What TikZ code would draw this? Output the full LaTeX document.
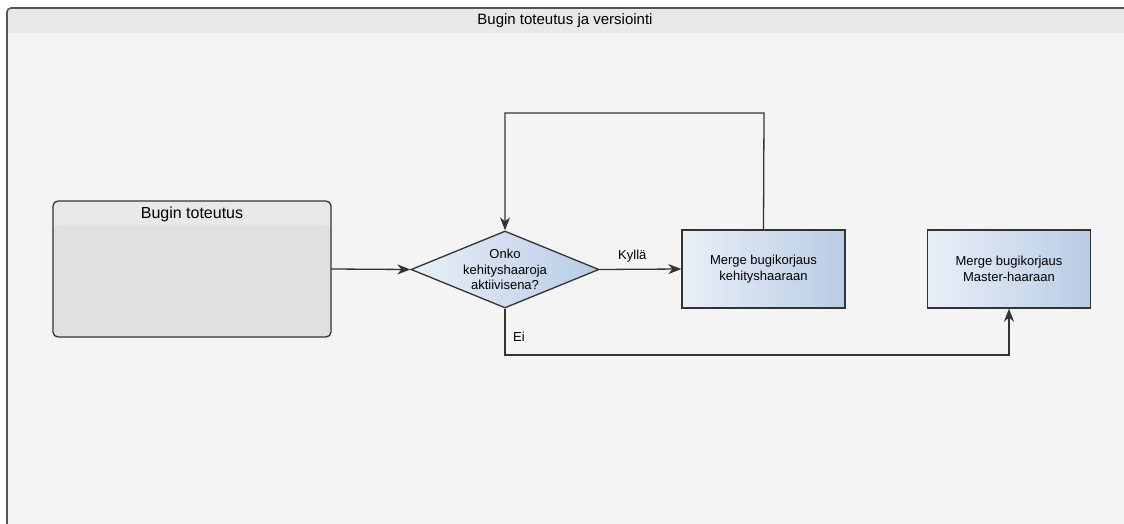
\documentclass[tikz,border=0pt]{standalone}
\usepackage{fontspec}
\setmainfont{Liberation Sans}
\usetikzlibrary{arrows.meta,shapes.geometric}
\definecolor{framebg}{HTML}{F4F4F4}
\definecolor{framehead}{HTML}{E8E8E8}
\definecolor{framestroke}{HTML}{555555}
\definecolor{boxbg}{HTML}{E0E0E0}
\definecolor{gradl}{HTML}{E9EFF8}
\definecolor{gradr}{HTML}{B9CCE5}
\definecolor{linec}{HTML}{333333}
\tikzset{
  procbox/.style={draw=linec, line width=1.3pt, left color=gradl, right color=gradr, minimum width=163pt, minimum height=78pt, align=center, font=\fontsize{13}{15.5}\selectfont, inner sep=0pt},
  decision/.style={diamond, draw=linec, line width=1.3pt, left color=gradl, right color=gradr, minimum width=188pt, minimum height=77pt, aspect=2.44, align=center, font=\fontsize{13}{15.5}\selectfont, inner sep=0pt},
  conn/.style={draw=linec, line width=1.3pt, -{Stealth[length=13pt,width=10pt,inset=4pt]}},
  lbl/.style={font=\fontsize{13}{15}\selectfont, inner sep=1pt}
}
\begin{document}
\begin{tikzpicture}[x=1pt,y=-1pt]
\useasboundingbox (0,0) rectangle (1124,524);
\begin{scope}
\clip (0,0) rectangle (1124,524);
% outer container
\fill[framebg, rounded corners=4pt] (7,8) rectangle (1140,540);
\fill[framehead, rounded corners=4pt] (7,8) rectangle (1140,33);
\fill[framehead] (7,20) rectangle (1140,33);
\draw[framestroke, line width=1.6pt, rounded corners=4pt] (7,540) -- (7,8) -- (1140,8);
\end{scope}
\node[font=\fontsize{15}{17}\selectfont] (title) at (565,20.5) {Bugin toteutus ja versiointi};
% Bugin toteutus swimlane box
\fill[boxbg, rounded corners=5pt] (53,201) rectangle (331,337);
\fill[framehead, rounded corners=5pt] (53,201) rectangle (331,226);
\fill[framehead] (53,214) rectangle (331,226);
\draw[linec, line width=1.3pt, rounded corners=5pt] (53,201) rectangle (331,337);
\node[minimum width=278pt, minimum height=136pt, inner sep=0pt] (impl) at (192,269) {};
\node[font=\fontsize{16}{18}\selectfont] (implt) at (192,214) {Bugin toteutus};
% decision
\node[decision] (dec) at (505,269.5) {Onko\\kehityshaaroja\\aktiivisena?};
% boxes
\node[procbox] (dev) at (763.5,269) {Merge bugikorjaus\\kehityshaaraan};
\node[procbox] (mast) at (1009,269) {Merge bugikorjaus\\Master-haaraan};
% connectors
\draw[conn] (impl.east) -- (dec.west);
\draw[conn] (dec.east) -- node[lbl, above, pos=0.4, yshift=5pt] (kylla) {Kyllä} (dev.west);
\coordinate (loopr) at (764,113);
\coordinate (loopl) at (505,113);
\draw[conn] (dev.north) -- (loopr) -- (loopl) -- (dec.north);
\coordinate (eil) at (505,355);
\coordinate (eir) at (1009,355);
\draw[conn] (dec.south) -- (eil) -- (eir) -- (mast.south);
\node[lbl, anchor=west] (ei) at (512,337) {Ei};
\end{tikzpicture}
\end{document}
